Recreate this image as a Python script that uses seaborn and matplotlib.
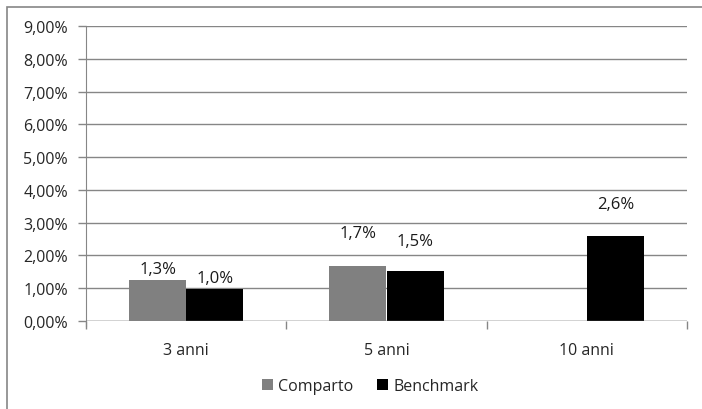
import matplotlib
matplotlib.use("Agg")
import matplotlib.pyplot as plt
import seaborn as sns
import pandas as pd
import numpy as np
from matplotlib.patches import Rectangle

categories = ["3 anni", "5 anni", "10 anni"]
comparto = [1.25, 1.68, np.nan]
benchmark = [0.98, 1.52, 2.59]
comparto_labels = ["1,3%", "1,7%", ""]
benchmark_labels = ["1,0%", "1,5%", "2,6%"]
yticks = [0, 1, 2, 3, 4, 5, 6, 7, 8, 9]
ytick_labels = ["0,00%", "1,00%", "2,00%", "3,00%", "4,00%", "5,00%", "6,00%", "7,00%", "8,00%", "9,00%"]

sns.set_style("white")
plt.rcParams['font.family'] = ['Open Sans', 'DejaVu Sans']

df = pd.DataFrame({
    "cat": categories * 2,
    "serie": ["Comparto"] * 3 + ["Benchmark"] * 3,
    "val": comparto + benchmark,
})

fig = plt.figure(figsize=(7.02, 4.10), dpi=100)
ax = fig.add_axes([86/702, 1-322/410, (687-86)/702, (322-27)/410])

sns.barplot(data=df, x="cat", y="val", hue="serie", order=categories,
            hue_order=["Comparto", "Benchmark"],
            palette={"Comparto": "#808080", "Benchmark": "#000000"},
            width=0.57, gap=0, ax=ax, saturation=1, errorbar=None,
            linewidth=0, legend=True)

ax.set_ylim(0, 9)
ax.set_xlim(-0.5, 2.5)
ax.set_yticks(yticks)
ax.set_yticklabels(ytick_labels, fontsize=11.5, color="#262626")
ax.yaxis.grid(True, color="#868686", linewidth=1)
ax.set_axisbelow(True)
for s in ["top", "right", "bottom"]:
    ax.spines[s].set_visible(False)
ax.spines["left"].set_color("#868686")
ax.spines["left"].set_bounds(-0.15, 9)
ax.set_xlabel("")
ax.set_ylabel("")
ax.tick_params(axis="y", length=6, color="#868686", width=1, pad=7, left=True)
ax.tick_params(axis="x", which="major", length=0, labelsize=11.5, labelcolor="#262626", pad=15)
ax.set_xticks([-0.5, 0.5, 1.5, 2.5], minor=True)
ax.tick_params(axis="x", which="minor", length=6, color="#868686", width=1, bottom=True, direction="out")
ax.axhline(0, color="#868686", linewidth=1, zorder=3)

# data labels (offsets in points, as placed in the original)
c_off = [2, 18, 0]
b_off = [2, 16, 17]
half = 0.57 / 4
for i in range(3):
    if not np.isnan(comparto[i]):
        ax.annotate(comparto_labels[i], (i - half, comparto[i]), xytext=(0, c_off[i]),
                    textcoords="offset points", ha="center", va="bottom", fontsize=12, color="#1a1a1a")
    ax.annotate(benchmark_labels[i], (i + half, benchmark[i]), xytext=(0, b_off[i]),
                textcoords="offset points", ha="center", va="bottom", fontsize=12, color="#1a1a1a")

leg = ax.legend(loc="center", bbox_to_anchor=(370/702, 1-387/410), bbox_transform=fig.transFigure,
                ncol=2, frameon=False, fontsize=11.5, handlelength=0.7, handleheight=0.7,
                handletextpad=0.3, columnspacing=1.5)

fig.patches.append(Rectangle((7/702, -0.1), 1.2, 1.1 - 8/410, transform=fig.transFigure,
                             fill=False, edgecolor="#868686", linewidth=1.2))

fig.savefig("out.png", dpi=100)
